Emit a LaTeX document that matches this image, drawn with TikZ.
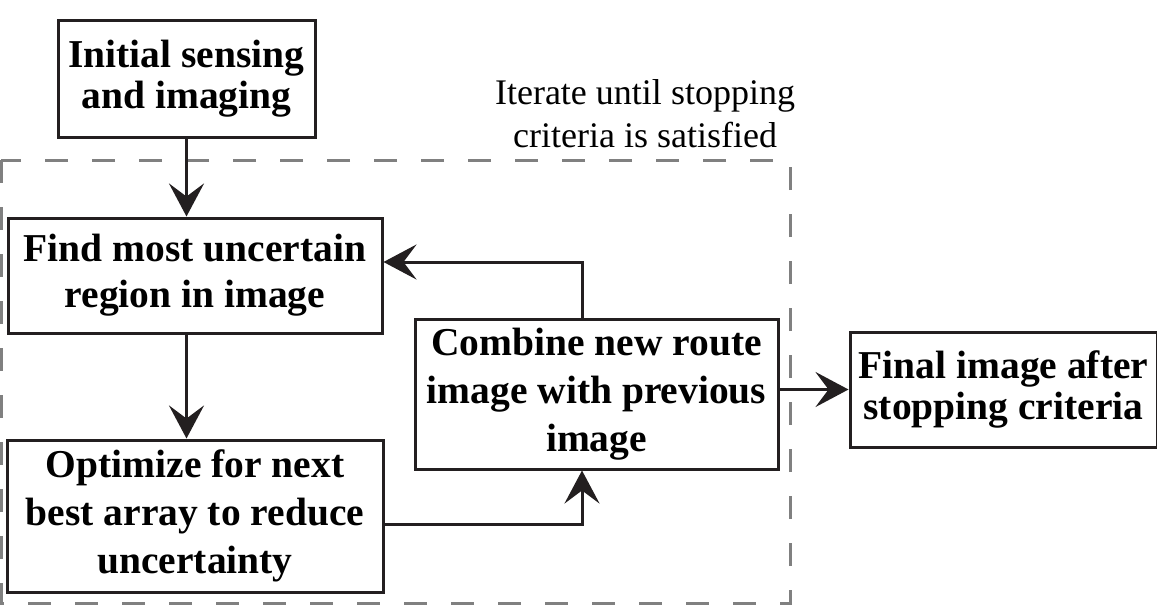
\documentclass[tikz,border=0pt]{standalone}
\usepackage{fontspec}
\setmainfont{Liberation Serif}
\usetikzlibrary{arrows.meta}
\definecolor{boxline}{HTML}{231F20}
\definecolor{framegray}{HTML}{808080}
\tikzset{
	stage/.style={draw=boxline, line width=3pt, align=center, inner sep=0pt, font=\fontsize{39.5}{#1}\selectfont\bfseries},
	stage/.default=46,
	flow/.style={draw=boxline, line width=3pt, -{Stealth[length=33pt,width=35pt,inset=13pt]}},
}
\begin{document}
\begin{tikzpicture}[x=1pt, y=-1pt, line join=miter]
	\useasboundingbox (0,0) rectangle (1157,605);
	\draw[framegray, line width=3pt, dash pattern=on 23pt off 24pt] (1,160) rectangle (790,603);
	\node[font=\fontsize{36}{43}\selectfont, align=center, inner sep=0pt] (note) at (645,114) {Iterate until stopping\\criteria is satisfied};
	\node[stage=41.5, minimum width=257pt, minimum height=117pt] (init) at (186.5,78.5) {Initial sensing\\and imaging};
	\node[stage, minimum width=374pt, minimum height=115pt] (find) at (195,275.5) {Find most uncertain\\region in image};
	\node[stage=48, minimum width=376pt, minimum height=152pt] (opt) at (195,516) {Optimize for next\\best array to reduce\\uncertainty};
	\node[stage=48, minimum width=363pt, minimum height=150pt] (comb) at (596.5,394) {Combine new route\\image with previous\\image};
	\node[stage=41.5, minimum width=307pt, minimum height=115pt] (final) at (1003.5,389.5) {Final image after\\stopping criteria};
	\coordinate (loop) at (582,262);
	\coordinate (join) at (582,524);
	\draw[flow] (init.south) -- (init.south |- find.north);
	\draw[flow] (find.south -| init.south) -- (opt.north -| init.south);
	\draw[flow] (opt.east |- join) -| (comb.south -| join);
	\draw[flow] (comb.north -| loop) |- (find.east |- loop);
	\draw[flow] (comb.east |- final.west) -- (final.west);
\end{tikzpicture}
\end{document}
